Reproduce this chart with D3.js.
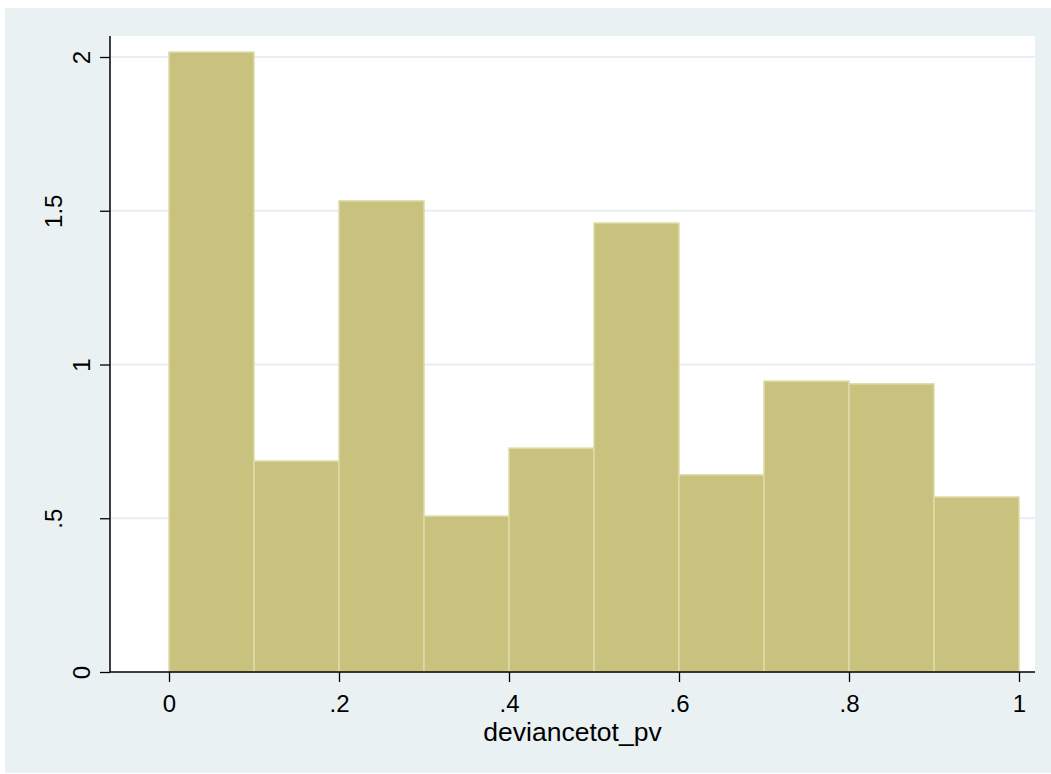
<!DOCTYPE html>
<html>
<head>
<meta charset="utf-8">
<script src="https://cdn.jsdelivr.net/npm/d3@7"></script>
<style>
  html, body { margin: 0; padding: 0; background: #ffffff; }
  svg { display: block; }
  text { font-family: "Liberation Sans", Arial, sans-serif; fill: #000; }
</style>
</head>
<body>
<svg id="chart" width="1051" height="774"></svg>
<script>
// Histogram of deviancetot_pv: bin edges and density heights
const binStarts = [0, 0.1, 0.2, 0.3, 0.4, 0.5, 0.6, 0.7, 0.8, 0.9];
const binWidth = 0.1;
const densities = [2.016, 0.686, 1.532, 0.507, 0.728, 1.460, 0.641, 0.946, 0.937, 0.569];
const xTicks = [0, 0.2, 0.4, 0.6, 0.8, 1];
const xTickLabels = ["0", ".2", ".4", ".6", ".8", "1"];
const yTicks = [0, 0.5, 1, 1.5, 2];
const yTickLabels = ["0", ".5", "1", "1.5", "2"];
const xTitle = "deviancetot_pv";

const svg = d3.select("#chart");
const W = 1051, H = 774;
const fontSize = 24;

// outer graph region
svg.append("rect").attr("x", 5).attr("y", 8).attr("width", W - 5).attr("height", H - 9)
  .attr("fill", "#eaf1f3");

// plot region
const plot = { left: 110, right: 1035, top: 36, bottom: 672 };
svg.append("rect")
  .attr("x", plot.left).attr("y", plot.top)
  .attr("width", plot.right - plot.left).attr("height", plot.bottom - plot.top)
  .attr("fill", "#ffffff");

const x = d3.scaleLinear().domain([0, 1]).range([169, 1019]);
const y = d3.scaleLinear().domain([0, 2]).range([672, 57]);

// horizontal grid lines
svg.append("g").selectAll("line")
  .data(yTicks.filter(d => d > 0))
  .join("line")
  .attr("x1", plot.left).attr("x2", plot.right)
  .attr("y1", d => y(d)).attr("y2", d => y(d))
  .attr("stroke", "#e7eff2").attr("stroke-width", 2);

// bars
svg.append("g").selectAll("rect")
  .data(binStarts.map((s, i) => ({ s, v: densities[i] })))
  .join("rect")
  .attr("x", d => x(d.s))
  .attr("width", d => x(d.s + binWidth) - x(d.s))
  .attr("y", d => y(d.v))
  .attr("height", d => y(0) - y(d.v))
  .attr("fill", "#c9c27f")
  .attr("stroke", "#dedaa6")
  .attr("stroke-width", 1.5);

// x axis
const xAxis = d3.axisBottom(x)
  .tickValues(xTicks)
  .tickFormat((d, i) => xTickLabels[i])
  .tickSizeInner(10).tickSizeOuter(0).tickPadding(13);
const gx = svg.append("g").attr("transform", `translate(0,${plot.bottom})`).call(xAxis);
gx.select(".domain").remove();
gx.append("line").attr("x1", plot.left).attr("x2", plot.right)
  .attr("y1", 0).attr("y2", 0).attr("stroke", "#000").attr("stroke-width", 1.5);
gx.selectAll(".tick line").attr("stroke", "#000").attr("stroke-width", 1.3);
gx.selectAll(".tick text")
  .attr("font-size", fontSize).attr("font-family", "Liberation Sans, Arial, sans-serif")
  .attr("fill", "#000");

// y axis: vertical labels, staggered (alternate ticks sit farther out)
const yAxis = d3.axisLeft(y)
  .tickValues(yTicks)
  .tickFormat((d, i) => yTickLabels[i])
  .tickSizeInner(10).tickSizeOuter(0);
const gy = svg.append("g").attr("transform", `translate(${plot.left},0)`).call(yAxis);
gy.select(".domain").remove();
gy.append("line").attr("x1", 0).attr("x2", 0)
  .attr("y1", plot.top).attr("y2", plot.bottom).attr("stroke", "#000").attr("stroke-width", 1.5);
gy.selectAll(".tick line").attr("stroke", "#000").attr("stroke-width", 1.3);
gy.selectAll(".tick text")
  .attr("font-size", fontSize).attr("font-family", "Liberation Sans, Arial, sans-serif")
  .attr("fill", "#000")
  .attr("x", null).attr("dy", null)
  .attr("text-anchor", "middle")
  .attr("transform", (d, i) => `translate(${i % 2 === 1 ? -48 : -20},0) rotate(-90)`);

// x axis title
svg.append("text")
  .attr("x", (plot.left + plot.right) / 2).attr("y", 741)
  .attr("text-anchor", "middle")
  .attr("font-size", 26.5)
  .text(xTitle);
</script>
</body>
</html>
